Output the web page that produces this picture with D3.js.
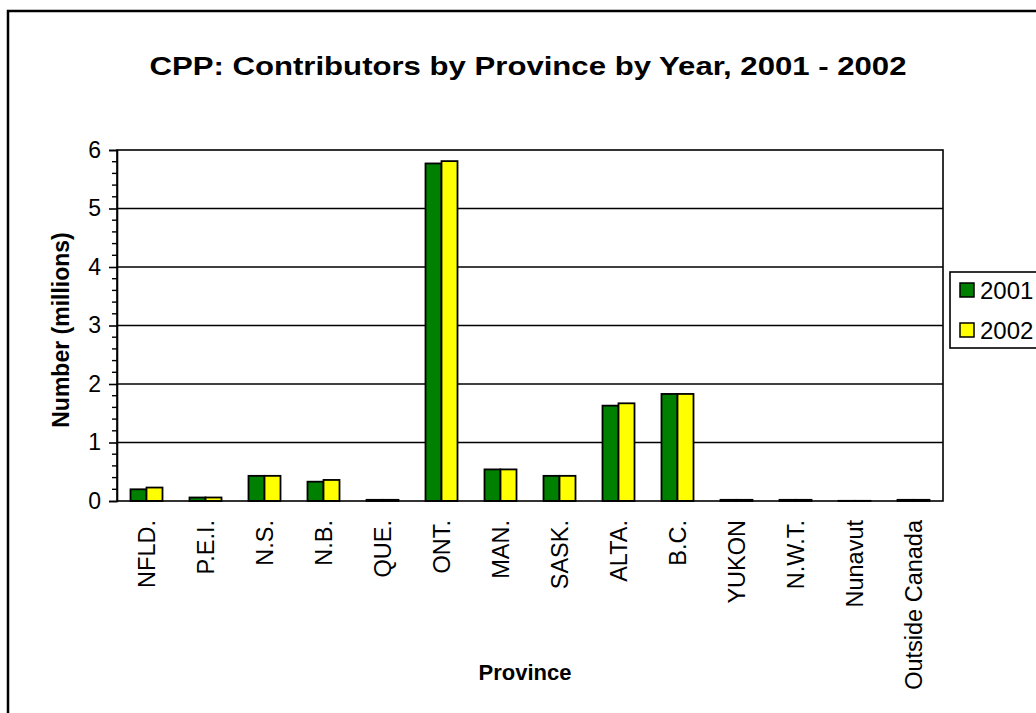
<!DOCTYPE html>
<html><head><meta charset="utf-8">
<script src="https://cdn.jsdelivr.net/npm/d3@7"></script>
<style>
html,body{margin:0;padding:0;background:#fff;}
svg{display:block;font-family:"Liberation Sans",Arial,sans-serif;}
</style></head>
<body>
<svg id="c" width="1036" height="713"></svg>
<script>
const categories = ["NFLD.","P.E.I.","N.S.","N.B.","QUE.","ONT.","MAN.","SASK.","ALTA.","B.C.","YUKON","N.W.T.","Nunavut","Outside Canada"];
const years = ["2001","2002"];
const values2001 = [0.20,0.06,0.43,0.33,0.02,5.77,0.54,0.43,1.63,1.83,0.02,0.02,0.003,0.02];
const values2002 = [0.23,0.06,0.43,0.36,0.02,5.81,0.54,0.43,1.67,1.83,0.02,0.02,0.003,0.02];
const yTicks = [0,1,2,3,4,5,6];
const colors = ["#008000","#ffff00"];

const svg = d3.select("#c");
const L=117,R=943,T=150,B=501;

// outer border
svg.append("rect").attr("x",8).attr("y",11).attr("width",1050).attr("height",720)
  .attr("fill","#fff").attr("stroke","#000").attr("stroke-width",2.5);

svg.append("text").attr("x",528).attr("y",75).attr("text-anchor","middle")
  .attr("font-weight","bold").attr("font-size",26)
  .attr("textLength",757).attr("lengthAdjust","spacingAndGlyphs")
  .text("CPP: Contributors by Province by Year, 2001 - 2002");

const x0 = d3.scaleBand().domain(categories).range([L,R]).paddingInner(0).paddingOuter(0);
const groupW = 32;
const x1 = d3.scaleBand().domain(years).range([0,groupW]);
const y = d3.scaleLinear().domain([0,6]).range([B,T]);

// plot area
svg.append("rect").attr("x",L).attr("y",T).attr("width",R-L).attr("height",B-T)
  .attr("fill","#fff").attr("stroke","none");

// gridlines
svg.append("g").selectAll("line").data(yTicks.slice(1,-1)).join("line")
  .attr("x1",L).attr("x2",R).attr("y1",d=>y(d)).attr("y2",d=>y(d))
  .attr("stroke","#000").attr("stroke-width",1.6);

// bars
const series = [values2001, values2002];
const g = svg.append("g");
categories.forEach((c,i)=>{
  years.forEach((yr,j)=>{
    const v = series[j][i];
    g.append("rect")
      .attr("x", x0(c) + (x0.bandwidth()-groupW)/2 + x1(yr))
      .attr("y", y(v))
      .attr("width", x1.bandwidth())
      .attr("height", y(0)-y(v))
      .attr("fill", colors[j]).attr("stroke","#000").attr("stroke-width",1.8);
  });
});

svg.append("rect").attr("x",L).attr("y",T).attr("width",R-L).attr("height",B-T)
  .attr("fill","none").attr("stroke","#000").attr("stroke-width",1.6);

// y axis
const yAxis = d3.axisLeft(y).tickValues(yTicks).tickSize(8).tickPadding(8).tickFormat(d3.format("d"));
const ya = svg.append("g").attr("transform",`translate(${L},0)`).call(yAxis);
ya.select(".domain").attr("stroke","#000").attr("stroke-width",1.6);
ya.selectAll(".tick line").attr("stroke","#000").attr("stroke-width",1.6);
ya.selectAll(".tick text").attr("font-size",23).attr("fill","#000").attr("font-family","Liberation Sans, Arial, sans-serif");
const minor = d3.range(0,6.01,0.2).filter(v=>Math.abs(v-Math.round(v))>1e-6);
svg.append("g").selectAll("line").data(minor).join("line")
  .attr("x1",L-5).attr("x2",L).attr("y1",d=>y(d)).attr("y2",d=>y(d))
  .attr("stroke","#000").attr("stroke-width",1.4);

// x labels
svg.append("g").selectAll("text").data(categories).join("text")
  .attr("transform",d=>`translate(${x0(d)+x0.bandwidth()/2},520) rotate(-90)`)
  .attr("dy","0.35em").attr("text-anchor","end").attr("font-size",23.5).text(d=>d);

// axis titles
svg.append("text").attr("x",525).attr("y",680).attr("text-anchor","middle")
  .attr("font-weight","bold").attr("font-size",22).text("Province");
svg.append("text").attr("transform","translate(69,330) rotate(-90)").attr("text-anchor","middle")
  .attr("font-weight","bold").attr("font-size",23).text("Number (millions)");

// legend
svg.append("rect").attr("x",950).attr("y",272).attr("width",100).attr("height",76)
  .attr("fill","#fff").attr("stroke","#000").attr("stroke-width",1.6);
years.forEach((yr,j)=>{
  const yy = 283 + j*40;
  svg.append("rect").attr("x",960).attr("y",yy).attr("width",14).attr("height",14)
    .attr("fill",colors[j]).attr("stroke","#000").attr("stroke-width",1.5);
  svg.append("text").attr("x",980).attr("y",yy+16).attr("font-size",24).text(yr);
});
</script>
</body></html>
